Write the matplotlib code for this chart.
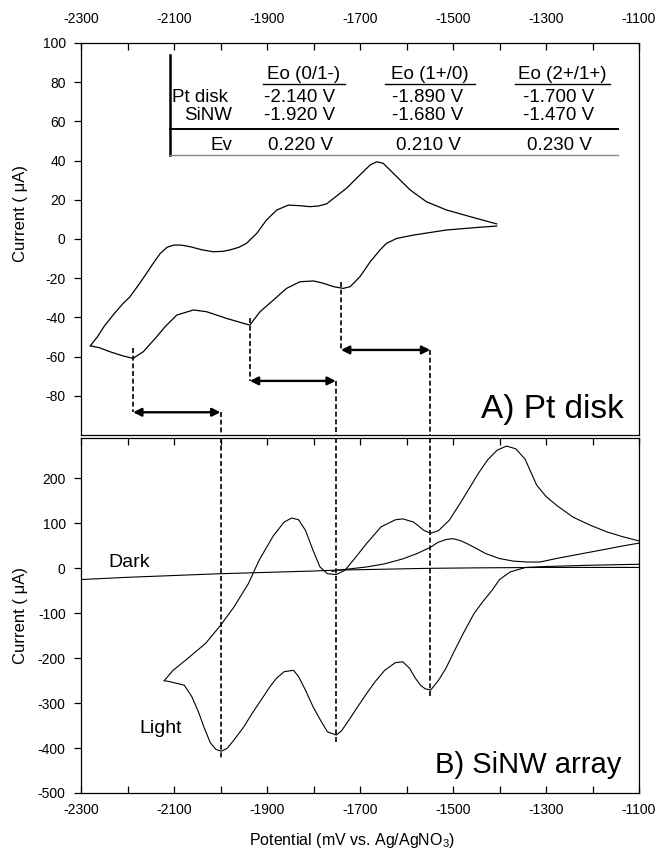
import matplotlib
matplotlib.use("Agg")
import matplotlib.pyplot as plt
from matplotlib.lines import Line2D
import numpy as np

plt.rcParams['font.family'] = ['Liberation Sans', 'DejaVu Sans']
plt.rcParams['mathtext.fontset'] = 'custom'
plt.rcParams['mathtext.rm'] = 'Liberation Sans'
plt.rcParams['mathtext.it'] = 'Liberation Sans:italic'
plt.rcParams['axes.unicode_minus'] = False

# ---------------- data ----------------
# Panel A: Pt disk CV (potential mV, current uA)
pt_fwd_x = [-2280, -2265, -2250, -2230, -2210, -2195, -2175, -2159, -2145, -2130, -2115, -2100,
            -2085, -2066, -2040, -2016, -1995, -1980, -1960, -1944, -1922, -1901, -1879, -1854,
            -1830, -1808, -1790, -1772, -1743, -1729, -1700, -1678, -1664, -1650, -1621, -1592,
            -1557, -1514, -1463, -1406]
pt_fwd_y = [-54.5, -50.0, -44.5, -38.5, -33.0, -29.6, -23.0, -17.5, -12.5, -7.5, -4.2, -3.1,
            -3.1, -3.9, -5.5, -6.5, -6.3, -5.6, -4.2, -2.2, 2.9, 9.7, 14.8, 17.3,
            17.0, 16.5, 16.8, 17.9, 23.3, 25.9, 32.7, 37.8, 39.4, 38.6, 31.8, 25.0,
            19.0, 14.8, 11.4, 7.7]
pt_rev_x = [-1406, -1442, -1514, -1585, -1621, -1643, -1657, -1678, -1700, -1721, -1736, -1757,
            -1780, -1800, -1829, -1858, -1886, -1915, -1937, -1951, -1987, -2030, -2058, -2094,
            -2119, -2137, -2166, -2188, -2209, -2238, -2260, -2280]
pt_rev_y = [6.6, 6.0, 4.6, 2.0, 0.3, -2.2, -5.6, -11.6, -19.2, -24.3, -25.2, -24.3,
            -22.5, -21.4, -21.8, -25.2, -31.1, -37.1, -43.9, -43.0, -40.5, -37.1, -36.2, -38.8,
            -44.7, -49.8, -57.5, -60.9, -59.7, -57.5, -55.5, -54.5]

# Panel B: SiNW array, light CV
light_fwd_x = [-2121, -2102, -2071, -2032, -2000, -1971, -1940, -1917, -1886, -1863, -1847, -1832,
               -1817, -1801, -1786, -1770, -1751, -1732, -1709, -1686, -1655, -1624, -1608, -1585,
               -1562, -1548, -1531, -1508, -1485, -1465, -1445, -1425, -1405, -1385, -1365, -1345,
               -1320, -1300, -1277, -1242, -1205, -1169, -1134, -1100]
light_fwd_y = [-250, -227, -201, -167, -127, -86, -34, 18, 73, 103, 112, 108,
               84, 40, 3, -12, -14, -4, 25, 55, 92, 108, 110, 103,
               84, 78, 84, 107, 144, 178, 212, 242, 263, 272, 266, 243,
               185, 160, 140, 114, 96, 81, 70, 61]
light_rev_x = [-1100, -1200, -1300, -1344, -1377, -1400, -1416, -1435, -1455, -1478, -1500, -1515,
               -1531, -1548, -1560, -1570, -1582, -1593, -1608, -1624, -1647, -1668, -1686, -1705,
               -1724, -1740, -1751, -1770, -1785, -1801, -1816, -1832, -1843, -1863, -1880, -1894,
               -1912, -1932, -1950, -1971, -1985, -1998, -2010, -2022, -2035, -2048, -2062, -2078,
               -2094, -2110, -2121]
light_rev_y = [9, 7, 4, 2, -8, -25, -49, -73, -101, -145, -190, -222,
               -249, -271, -268, -260, -243, -223, -208, -210, -227, -253, -279, -308,
               -338, -362, -371, -364, -338, -308, -274, -241, -227, -230, -245, -264,
               -292, -323, -353, -382, -400, -407, -403, -388, -355, -318, -285, -260,
               -256, -252, -250]
# second trace with hump near -1500 mV
hump_x = [-1760, -1747, -1720, -1686, -1647, -1608, -1577, -1548, -1532, -1515, -1500, -1485,
          -1470, -1455, -1430, -1401, -1370, -1340, -1313, -1277, -1241, -1205, -1169, -1134, -1100]
hump_y = [-7, -4, -1, 3, 10, 21, 33, 47, 58, 64, 66, 62,
          55, 47, 33, 22, 16, 14, 14, 22, 29, 36, 43, 50, 56]
# dark CV
dark_x = [-2300, -2200, -2100, -2000, -1900, -1800, -1750, -1650, -1550, -1450, -1300, -1200, -1100]
dark_y = [-25, -20, -16, -12, -9, -6, -4, -2, 0, 1, 2, 2, 2]

# arrows / peak connectors
arrow_x_start = [-2188, -1937, -1741]
arrow_x_end = [-2000, -1752, -1549]
arrow_y = [-88.4, -72.4, -56.6]
drop_top_start = [-55.6, -40.5, -21.8]
drop_bottom_end = [-427, -389, -289]

# inset table
tbl_cols = ['Eo (0/1-)', 'Eo (1+/0)', 'Eo (2+/1+)']
tbl_rows = ['Pt disk', 'SiNW', 'Ev']
tbl_vals = [['-2.140 V', '-1.890 V', '-1.700 V'],
            ['-1.920 V', '-1.680 V', '-1.470 V'],
            ['0.220 V', '0.210 V', '0.230 V']]

xticks = [-2300, -2100, -1900, -1700, -1500, -1300, -1100]
yticks_a = [-80, -60, -40, -20, 0, 20, 40, 60, 80, 100]
yticks_b = [-500, -400, -300, -200, -100, 0, 100, 200]

# ---------------- figure ----------------
W, H = 655, 850
fig = plt.figure(figsize=(W / 100, H / 100), dpi=100)

def fx(p):
    return p / W

def fy(p):
    return 1 - p / H

L, R = 81, 639
ax1 = fig.add_axes([fx(L), fy(435), fx(R) - fx(L), fy(43) - fy(435)])
ax2 = fig.add_axes([fx(L), fy(793), fx(R) - fx(L), fy(438) - fy(793)])

LW = 0.9
ax1.plot(pt_fwd_x, pt_fwd_y, color='black', lw=LW)
ax1.plot(pt_rev_x, pt_rev_y, color='black', lw=LW)
ax2.plot(dark_x, dark_y, color='black', lw=0.8)
ax2.plot(hump_x, hump_y, color='black', lw=0.8)
ax2.plot(light_fwd_x, light_fwd_y, color='black', lw=0.8)
ax2.plot(light_rev_x, light_rev_y, color='black', lw=0.8)

ax1.set_xlim(-2300, -1100)
ax2.set_xlim(-2300, -1100)
ax1.set_ylim(-100, 100)
ax2.set_ylim(-500, 290)

dash = dict(color='black', lw=1.2, linestyle=(0, (3, 1.6)))
for xs, xe, ay, yt, yb in zip(arrow_x_start, arrow_x_end, arrow_y, drop_top_start, drop_bottom_end):
    ax1.plot([xs, xs], [yt, ay], **dash)
    ax1.plot([xe, xe], [ay, -100], clip_on=False, **dash)
    ax2.plot([xe, xe], [290, yb], clip_on=False, **dash)
    ax1.annotate('', xy=(xe, ay), xytext=(xs, ay),
                 arrowprops=dict(arrowstyle='<|-|>', lw=1.7, color='black',
                                 mutation_scale=12, shrinkA=0, shrinkB=0))

for ax in (ax1, ax2):
    for sp in ax.spines.values():
        sp.set_linewidth(0.9)
        sp.set_color('black')
    ax.set_xticks(xticks)
    ax.set_xticks(np.arange(-2200, -1100, 200), minor=True)
    ax.tick_params(axis='y', which='both', direction='out', length=5, width=0.9,
                   labelsize=10, pad=6, right=False)

ax1.tick_params(axis='x', which='both', direction='in', length=5, width=0.9,
                top=True, bottom=False, labeltop=True, labelbottom=False, labelsize=10, pad=12)
ax2.tick_params(axis='x', which='both', direction='in', length=5, width=0.9,
                top=True, bottom=True, labeltop=False, labelbottom=True, labelsize=10, pad=7)
ax1.set_yticks(yticks_a)
ax2.set_yticks(yticks_b)

ax1.set_ylabel('Current ( μA)', fontsize=12)
ax2.set_ylabel('Current ( μA)', fontsize=12)
ax1.yaxis.set_label_coords((28 - L) / (R - L), 0.564)
ax2.yaxis.set_label_coords((28 - L) / (R - L), 0.5)

fig.text(fx(352), fy(840), 'Potential (mV vs. Ag/AgNO$_3$)', fontsize=11.5,
         ha='center', va='center')

# panel labels
fig.text(fx(624), fy(418), 'A) Pt disk', fontsize=24, ha='right', va='baseline')
fig.text(fx(621), fy(773), 'B) SiNW array', fontsize=21, ha='right', va='baseline')
fig.text(fx(108), fy(567), 'Dark', fontsize=14, ha='left', va='baseline')
fig.text(fx(139), fy(733), 'Light', fontsize=14, ha='left', va='baseline')

# inset table
TFS = 13.5
col_hdr_x = [304, 430, 562]
col_val_x = [300, 428, 559]
ul = [(263, 345), (385, 475), (515, 610)]
row_base = [102.5, 120.5, 150]
row_lbl_x = [200, 208, 221]
for name, cx, (u0, u1) in zip(tbl_cols, col_hdr_x, ul):
    fig.text(fx(cx), fy(79), name, fontsize=TFS, ha='center', va='baseline')
    fig.add_artist(Line2D([fx(u0), fx(u1)], [fy(84), fy(84)], color='black', lw=1.0,
                          transform=fig.transFigure))
for r, (rname, by, rx) in enumerate(zip(tbl_rows, row_base, row_lbl_x)):
    fig.text(fx(rx), fy(by), rname, fontsize=TFS, ha='center', va='baseline')
    for c, cx in enumerate(col_val_x):
        fig.text(fx(cx), fy(by), tbl_vals[r][c], fontsize=TFS, ha='center', va='baseline')

fig.add_artist(Line2D([fx(170), fx(170)], [fy(55), fy(155)], color='black', lw=1.8,
                      transform=fig.transFigure))
fig.add_artist(Line2D([fx(170), fx(618)], [fy(129), fy(129)], color='black', lw=1.4,
                      transform=fig.transFigure))
fig.add_artist(Line2D([fx(170), fx(618)], [fy(155), fy(155)], color='#888888', lw=1.0,
                      transform=fig.transFigure))

fig.savefig('out.png', dpi=100)
